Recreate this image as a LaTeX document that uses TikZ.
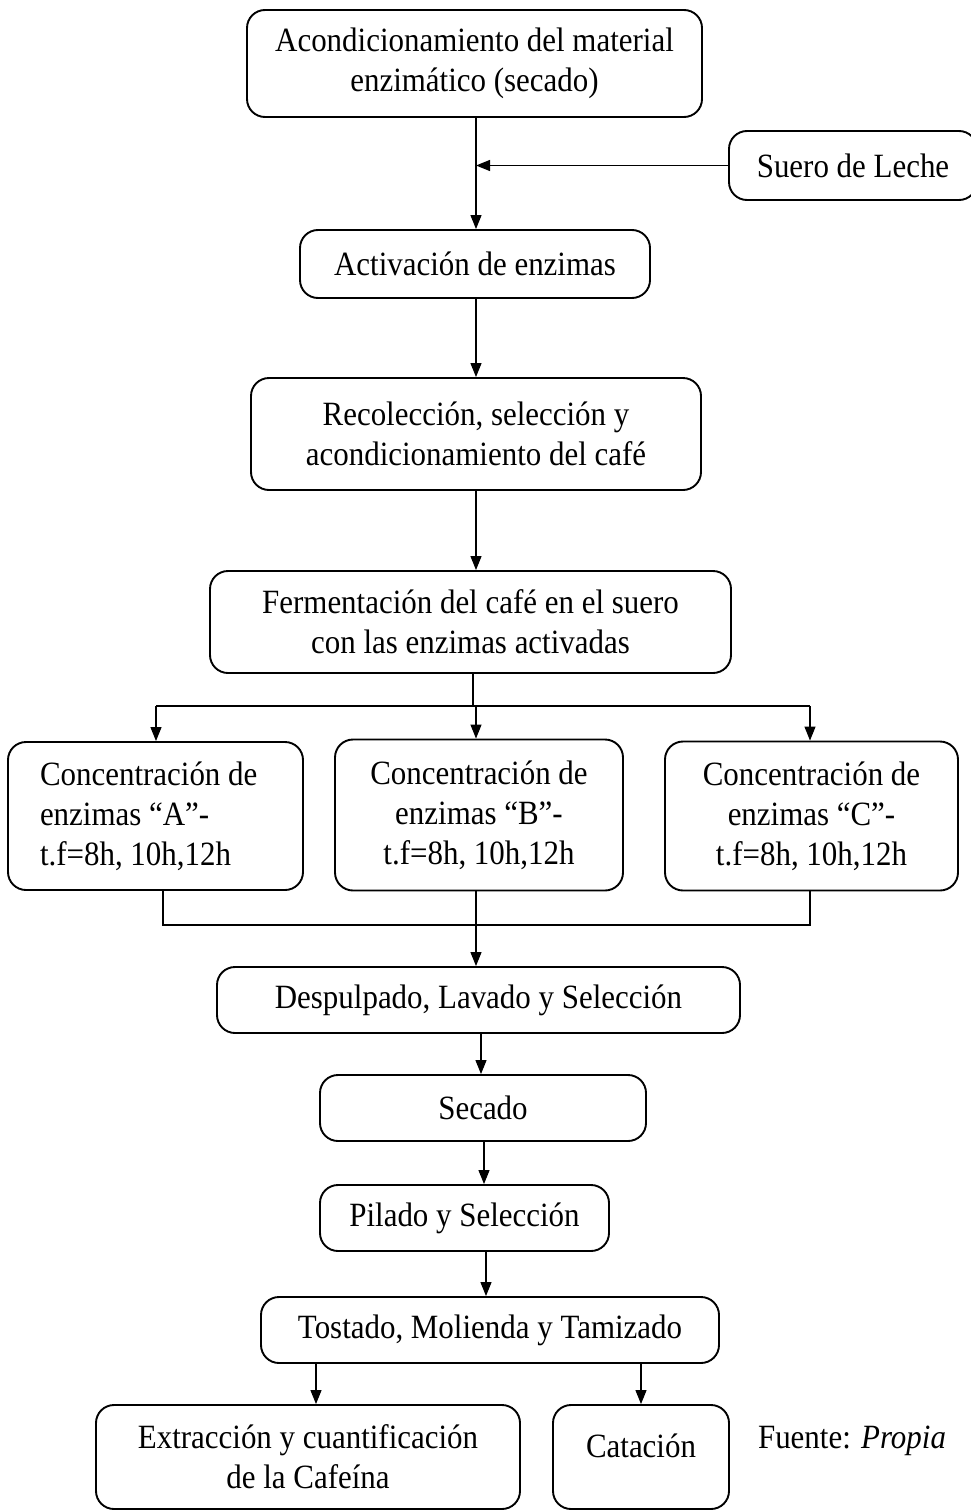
\documentclass[tikz,border=0pt]{standalone}
\usepackage{fontspec}
\setmainfont{Liberation Serif}[FakeStretch=0.91]
\usetikzlibrary{arrows.meta}
\tikzset{
  box/.style={draw, line width=1.9pt, rounded corners=18pt, align=center, inner sep=0pt},
  arr/.style={-{Triangle[length=14pt,width=11pt]}, line width=1.2pt},
  ln/.style={line width=1.2pt},
}
\begin{document}
\begin{tikzpicture}[x=1pt, y=-1pt, font=\fontsize{34}{40}\selectfont]
\useasboundingbox (0,0) rectangle (970,1512);

% process steps
\node[box, minimum width=455pt, minimum height=107pt] (b1) at (474.5,63.5)
  {Acondicionamiento del material\\enzimático (secado)};
\node[box, minimum width=248pt, minimum height=69pt] (suero) at (853,165.5)
  {Suero de Leche};
\node[box, minimum width=350pt, minimum height=68pt] (b2) at (475,264)
  {Activación de enzimas};
\node[box, minimum width=450pt, minimum height=112pt] (b3) at (476,434)
  {Recolección, selección y\\acondicionamiento del café};
\node[box, minimum width=521pt, minimum height=102pt] (b4) at (470.5,622)
  {Fermentación del café en el suero\\con las enzimas activadas};

% the three enzyme concentrations
\node[box, align=flush left, text width=231pt, inner xsep=32pt, minimum height=148pt] (ca) at (155.5,816)
  {Concentración de\\enzimas “A”-\\t.f=8h, 10h,12h};
\node[box, minimum width=288pt, minimum height=151pt] (cb) at (479,815)
  {Concentración de\\enzimas “B”-\\t.f=8h, 10h,12h};
\node[box, minimum width=293pt, minimum height=149pt] (cc) at (811.5,816)
  {Concentración de\\enzimas “C”-\\t.f=8h, 10h,12h};

\node[box, minimum width=523pt, minimum height=66pt] (desp) at (478.5,1000)
  {Despulpado, Lavado y Selección};
\node[box, minimum width=326pt, minimum height=66pt] (sec) at (483,1108)
  {Secado};
\node[box, minimum width=289pt, minimum height=66pt] (pil) at (464.5,1218)
  {Pilado y Selección};
\node[box, minimum width=458pt, minimum height=66pt] (tos) at (490,1330)
  {Tostado, Molienda y Tamizado};
\node[box, minimum width=424pt, minimum height=104pt] (ext) at (308,1457)
  {Extracción y cuantificación\\de la Cafeína};
\node[box, minimum width=176pt, minimum height=104pt] (cat) at (641,1457) {};
\node (cattxt) at ([yshift=11pt]cat.center) {Catación};
\node (fuente) at (852,1441) {Fuente: \textit{Propia}};

% connectors
\coordinate (m1) at (476,0);
\draw[arr] (b1.south -| m1) -- (b2.north -| m1);
\draw[arr] (suero.west) -- (suero.west -| m1);
\draw[arr] (b2.south -| m1) -- (b3.north -| m1);
\draw[arr] (b3.south -| m1) -- (b4.north -| m1);

\coordinate (split) at (473,706);
\coordinate (ka) at (156,0);
\coordinate (kc) at (810,0);
\draw[ln] (b4.south -| split) -- (split);
\draw[ln] (split -| ka) -- (split -| kc);
\draw[arr] (split -| ka) -- (ca.north -| ka);
\draw[arr] (split -| m1) -- (cb.north -| m1);
\draw[arr] (split -| kc) -- (cc.north -| kc);

\coordinate (join) at (476,925);
\coordinate (ja) at (163,0);
\draw[ln] (ca.south -| ja) |- (join);
\draw[ln] (cc.south -| kc) |- (join);
\draw[arr] (cb.south -| join) -- (desp.north -| join);

\coordinate (m2) at (481,0);
\coordinate (m3) at (484,0);
\coordinate (m4) at (486,0);
\draw[arr] (desp.south -| m2) -- (sec.north -| m2);
\draw[arr] (sec.south -| m3) -- (pil.north -| m3);
\draw[arr] (pil.south -| m4) -- (tos.north -| m4);

\coordinate (m5) at (316,0);
\draw[arr] (tos.south -| m5) -- (ext.north -| m5);
\draw[arr] (tos.south -| cat) -- (cat.north);
\end{tikzpicture}
\end{document}
